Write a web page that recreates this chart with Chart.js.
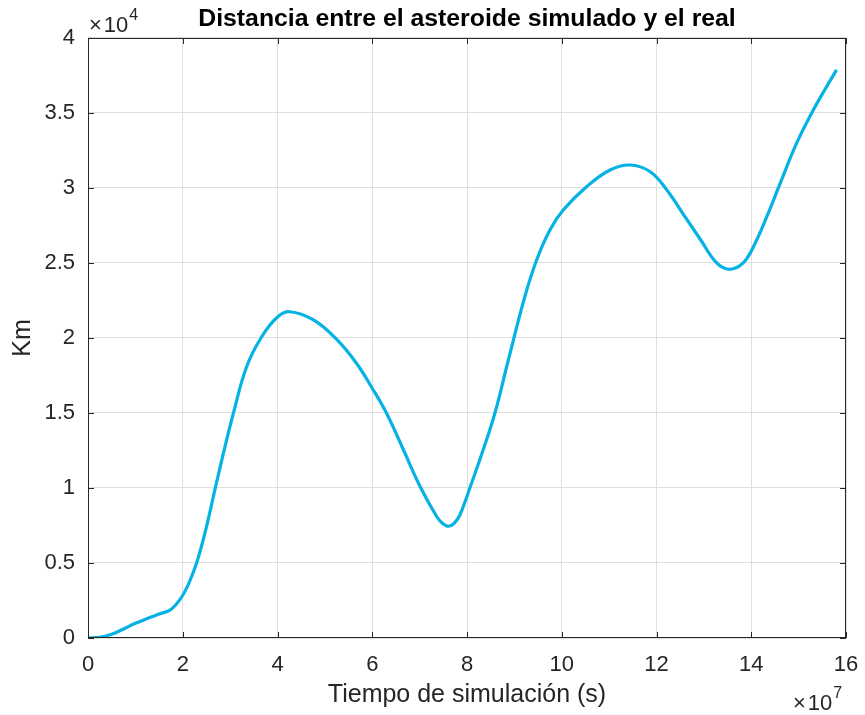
<!DOCTYPE html>
<html>
<head>
<meta charset="utf-8">
<script src="https://cdn.jsdelivr.net/npm/chart.js@4"></script>
<style>
  html, body { margin: 0; padding: 0; background: #fff; }
  #wrap { width: 865px; height: 715px; }
</style>
</head>
<body>
<div id="wrap"><canvas id="distChart"></canvas></div>
<script>
// tiempo en unidades de 1e7 s, distancia en unidades de 1e4 km
const tiempo = [0, 0.25, 0.5, 0.75, 1, 1.25, 1.5, 1.75, 2, 2.2, 2.35, 2.5, 2.68, 2.88, 3.07, 3.35, 3.67, 4.0, 4.26, 4.76, 5.25, 5.67, 6.0, 6.3, 6.66, 7.01, 7.36, 7.48, 7.61, 7.73, 7.85, 8.06, 8.34, 8.59, 8.87, 9.22, 9.47, 9.75, 10.03, 10.53, 11.02, 11.44, 11.86, 12.21, 12.64, 12.92, 13.27, 13.54, 13.83, 14.08, 14.33, 14.61, 14.96, 15.31, 15.59, 15.8];
const distancia = [0, 0.005, 0.025, 0.06, 0.098, 0.13, 0.16, 0.19, 0.285, 0.42, 0.56, 0.74, 0.99, 1.26, 1.5, 1.81, 2.01, 2.14, 2.175, 2.12, 1.99, 1.83, 1.665, 1.5, 1.253, 1.01, 0.81, 0.765, 0.745, 0.765, 0.82, 1.0, 1.253, 1.5, 1.85, 2.275, 2.52, 2.72, 2.853, 3.01, 3.12, 3.153, 3.11, 2.99, 2.79, 2.66, 2.5, 2.458, 2.5, 2.63, 2.81, 3.03, 3.3, 3.52, 3.675, 3.787];
const xTicks = [0, 2, 4, 6, 8, 10, 12, 14, 16];
const yTicks = [0, 0.5, 1, 1.5, 2, 2.5, 3, 3.5, 4];

const textColor = '#262626';
const fontName = 'Arial, "Liberation Sans", Helvetica, sans-serif';

function drawExponent(ctx, x, y, exp) {
  ctx.font = '22px ' + fontName;
  ctx.fillText('\u00d7', x, y);
  let cx = x + ctx.measureText('\u00d7').width + 2;
  ctx.fillText('10', cx, y);
  cx += ctx.measureText('10').width + 1;
  ctx.font = '16px ' + fontName;
  ctx.fillText(exp, cx, y - 12);
}

// caja, marcas hacia dentro y exponentes estilo MATLAB
const matlabBox = {
  id: 'matlabBox',
  afterDraw(chart) {
    const {ctx, chartArea: a, scales} = chart;
    const tl = 6;
    ctx.save();
    ctx.strokeStyle = textColor;
    ctx.lineWidth = 1;
    ctx.strokeRect(a.left + 0.5, a.top + 0.5, a.right - a.left - 1, a.bottom - a.top - 1);
    ctx.beginPath();
    xTicks.forEach(v => {
      const px = Math.round(scales.x.getPixelForValue(v)) + 0.5;
      ctx.moveTo(px, a.bottom); ctx.lineTo(px, a.bottom - tl);
      ctx.moveTo(px, a.top); ctx.lineTo(px, a.top + tl);
    });
    yTicks.forEach(v => {
      const py = Math.round(scales.y.getPixelForValue(v)) + 0.5;
      ctx.moveTo(a.left, py); ctx.lineTo(a.left + tl, py);
      ctx.moveTo(a.right, py); ctx.lineTo(a.right - tl, py);
    });
    ctx.stroke();

    ctx.fillStyle = textColor;
    ctx.textAlign = 'left';
    ctx.textBaseline = 'alphabetic';
    drawExponent(ctx, a.left + 1, 32, '4');
    drawExponent(ctx, a.right - 53, 710, '7');
    ctx.restore();
  }
};

const ctx = document.getElementById('distChart').getContext('2d');
const distChart = new Chart(ctx, {
  type: 'line',
  data: {
    datasets: [{
      label: 'Distancia',
      data: tiempo.map((t, i) => ({x: t, y: distancia[i]})),
      borderColor: 'rgb(5, 178, 228)',
      borderWidth: 3.2,
      pointRadius: 0,
      tension: 0.4,
      fill: false
    }]
  },
  options: {
    responsive: true,
    maintainAspectRatio: false,
    animation: false,
    layout: { padding: { left: 0, right: 19, top: 0, bottom: 0 } },
    plugins: {
      legend: { display: false },
      tooltip: { enabled: false },
      title: {
        display: true,
        text: 'Distancia entre el asteroide simulado y el real',
        color: '#000',
        fullSize: false,
        font: { family: fontName, size: 24.8, weight: 'bold' },
        padding: { top: 4, bottom: 4.2 }
      }
    },
    scales: {
      x: {
        type: 'linear',
        min: 0,
        max: 16,
        afterFit(scale) {
          scale.height = 77;
          scale.paddingRight = 0;
          scale.paddingLeft = 0;
        },
        afterBuildTicks(scale) { scale.ticks = xTicks.map(v => ({value: v})); },
        ticks: {
          color: textColor,
          padding: 14,
          maxRotation: 0,
          font: { family: fontName, size: 22 },
          callback: v => String(v)
        },
        grid: { color: '#dfdfdf', drawTicks: false },
        border: { display: false },
        title: {
          display: true,
          text: 'Tiempo de simulación (s)',
          color: textColor,
          font: { family: fontName, size: 25 },
          padding: { top: 0, bottom: 5 }
        }
      },
      y: {
        min: 0,
        max: 4,
        afterFit(scale) { scale.width = 88; },
        afterBuildTicks(scale) { scale.ticks = yTicks.map(v => ({value: v})); },
        ticks: {
          color: textColor,
          padding: 13,
          font: { family: fontName, size: 22 },
          callback: v => String(v)
        },
        grid: { color: '#dfdfdf', drawTicks: false },
        border: { display: false },
        title: {
          display: true,
          text: 'Km',
          color: textColor,
          font: { family: fontName, size: 25 },
          padding: { top: 8, bottom: 0 }
        }
      }
    }
  },
  plugins: [matlabBox]
});
</script>
</body>
</html>
